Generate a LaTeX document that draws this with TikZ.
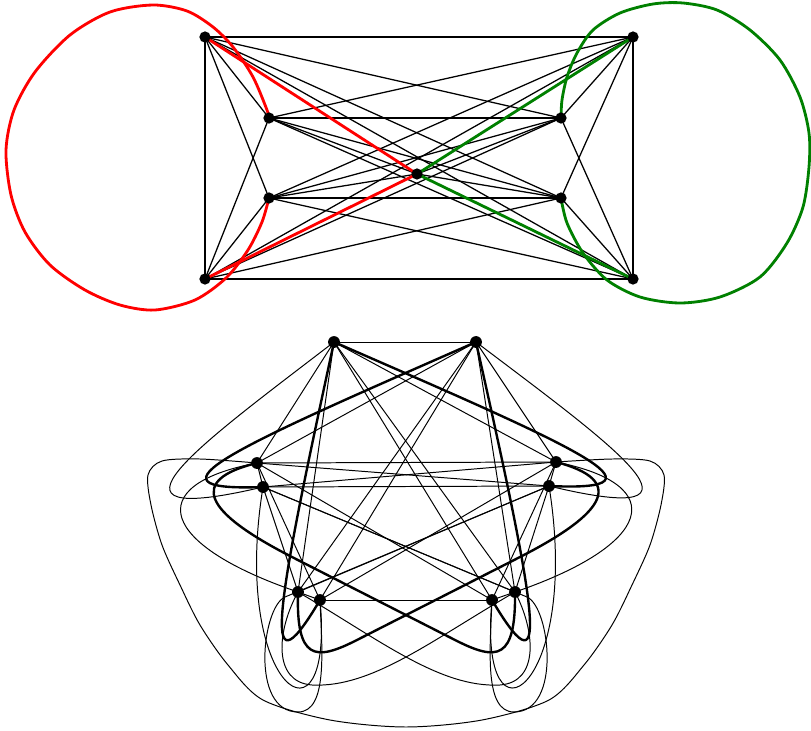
\documentclass[tikz,border=0pt]{standalone}
\begin{document}
\begin{tikzpicture}[x=0.025cm,y=-0.025cm,line join=round,line cap=round,
  thinline/.style={line width=0.7pt},
  boldline/.style={line width=1.7pt},
  topline/.style={line width=0.9pt}]
\useasboundingbox (0,0) rectangle (811,731);
% upper graph
\coordinate (A) at (205,37);
\coordinate (B) at (633,37);
\coordinate (C) at (205,279);
\coordinate (D) at (633,279);
\coordinate (P) at (269,118);
\coordinate (Q) at (561,118);
\coordinate (R) at (269,198);
\coordinate (S) at (561,198);
\coordinate (O) at (417,174);
\foreach \a/\b in {A/B,A/C,A/D,A/P,A/Q,A/R,A/S,B/C,B/D,B/P,B/Q,B/R,B/S,C/D,C/P,C/Q,C/R,C/S,
  D/P,D/Q,D/R,D/S,P/Q,P/S,P/O,Q/R,Q/O,R/S,R/O,S/O} {\draw[topline] (\a)--(\b);}
\draw[red,line width=2pt] (A)--(O)--(C);
\draw[red,line width=2pt] plot[smooth] coordinates {(P) (267,110) (253,77) (233,47) (213,27) (187,11)
  (153,5) (110,12) (70,35) (35,72) (14,110) (6,150) (11,195) (25,232) (50,265) (85,290) (120,305)
  (155,310) (195,300) (226,278) (248,250) (262,222) (R)};
\draw[green!50!black,line width=2pt] (B)--(O)--(D);
\draw[green!50!black,line width=2pt] plot[smooth] coordinates {(Q) (562,100) (567,77) (577,53) (593,30)
  (620,13) (653,4) (683,3) (717,10) (750,30) (780,60) (800,97) (809,133) (809,167) (803,207) (787,243)
  (760,277) (720,297) (680,303) (640,297) (607,280) (583,253) (567,223) (S)};
\foreach \x in {A,B,C,D,P,Q,R,S,O} {\fill (\x) circle(4pt);}
% lower graph
\coordinate (t1) at (334,342);
\coordinate (t2) at (476,342);
\coordinate (l1) at (257,463);
\coordinate (l2) at (263,487);
\coordinate (r1) at (556,462);
\coordinate (r2) at (549,486);
\coordinate (bl1) at (298,592);
\coordinate (bl2) at (320,600);
\coordinate (br1) at (492,600);
\coordinate (br2) at (515,592);
\foreach \a/\b in {t1/t2,l1/l2,r1/r2,bl1/bl2,br1/br2,t1/l1,t2/l1,t2/r1,t1/r1,
  t1/bl1,t2/bl1,t2/bl2,t2/br2,t1/br2,t1/br1,l1/r1,l1/r2,l2/r1,l2/r2,
  l2/bl1,l1/bl2,r2/br2,r1/br1,l1/br1,l2/br2,r2/bl1,r1/bl2,bl2/br1} {\draw[thinline] (\a)--(\b);}
\draw[thinline] (t1) .. controls (200,445) and (80,530) .. (l2);
\draw[thinline] (t2) .. controls (612,445) and (732,530) .. (r2);
\draw[thinline] (l1) .. controls (140,485) and (160,545) .. (bl1);
\draw[thinline] (r1) .. controls (672,485) and (652,545) .. (br2);
\draw[thinline] (l2) .. controls (230,690) and (335,760) .. (bl2);
\draw[thinline] (r2) .. controls (582,690) and (477,760) .. (br1);
\draw[thinline] (r2) -- (285,597) .. controls (262,607) and (250,712) .. (298,712)
  .. controls (328,712) and (322,650) .. (bl2);
\draw[thinline] (l2) -- (527,597) .. controls (550,607) and (562,712) .. (514,712)
  .. controls (484,712) and (490,650) .. (br1);
\draw[thinline] (bl1) .. controls (380,640) and (440,688) .. (500,685)
  .. controls (540,682) and (535,630) .. (br2);
\draw[thinline] (br2) .. controls (432,640) and (372,688) .. (312,685)
  .. controls (272,682) and (277,630) .. (bl1);
\draw[thinline] plot[smooth] coordinates {(l1) (200,459) (162,461) (148,475) (151,505) (162,545)
  (180,585) (200,625) (228,665) (263,700) (330,720) (406,727) (482,720) (549,700) (584,665)
  (612,625) (632,585) (650,545) (661,505) (664,475) (650,461) (612,459) (r1)};
\draw[boldline] (t1) .. controls (575,447) and (680,492) .. (r2);
\draw[boldline] (t2) .. controls (237,447) and (132,492) .. (l2);
\draw[boldline] (t1) .. controls (278,600) and (258,705) .. (bl2);
\draw[boldline] (t2) .. controls (534,600) and (554,705) .. (br1);
\draw[boldline] (r1) .. controls (625,480) and (608,512) .. (520,557) -- (355,641)
  .. controls (315,661) and (296,660) .. (bl1);
\draw[boldline] (l1) .. controls (187,480) and (204,512) .. (292,557) -- (457,641)
  .. controls (497,661) and (516,660) .. (br2);
\foreach \x in {t1,t2,l1,l2,r1,r2,bl1,bl2,br1,br2} {\fill (\x) circle(4.2pt);}
\end{tikzpicture}
\end{document}
